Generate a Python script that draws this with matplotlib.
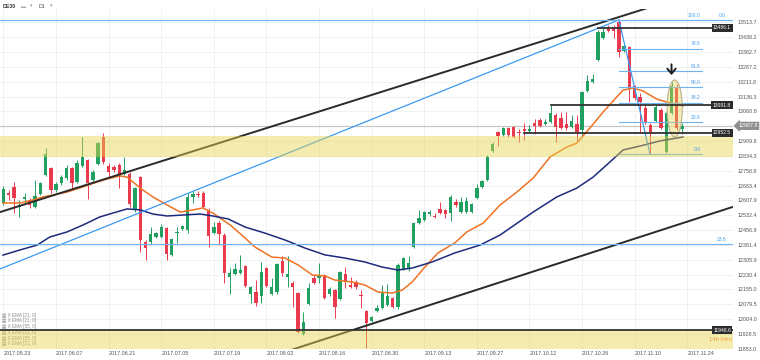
import numpy as np
import matplotlib.pyplot as plt
from matplotlib.patches import Ellipse
from matplotlib.transforms import blended_transform_factory

plt.rcParams['font.family'] = ['Liberation Sans', 'DejaVu Sans']

# DE30 daily candles, bar 0 = 2017.05.23
opens = [12595, 12646, 12677, 12575, 12616, 12610, 12575, 12641, 12738, 12773,
         12661, 12697, 12722, 12773, 12702, 12783, 12814, 12712, 12794, 12931,
         12783, 12778, 12789, 12743, 12743, 12560, 12727, 12397, 12397, 12422,
         12422, 12468, 12331, 12443, 12463, 12458, 12626, 12641, 12646, 12560,
         12443, 12493, 12432, 12218, 12234, 12239, 12275, 12132, 12142, 12122,
         12264, 12132, 12142, 12300, 12219, 12188, 12137, 11929, 12081, 12214,
         12214, 12229, 12132, 12152, 12107, 12234, 12178, 12193, 12127, 12046,
         11995, 12046, 12061, 12076, 12112, 12066, 12259, 12259, 12371, 12493,
         12509, 12539, 12529, 12565, 12560, 12544, 12600, 12549, 12549, 12549,
         12621, 12677, 12712, 12860, 12957, 12941, 12977, 12982, 12957, 12972,
         12962, 13002, 13018, 12997, 13007, 13043, 13028, 12997, 12982, 12997,
         12967, 13165, 13211, 13323, 13435, 13486, 13486, 13516, 13369, 13389,
         13191, 13135, 13079, 12992, 13012, 13068, 12855, 13053, 13186, 12972]
highs = [12682, 12661, 12702, 12610, 12646, 12621, 12712, 12702, 12875, 12778,
         12702, 12738, 12789, 12778, 12814, 12931, 12819, 12763, 12906, 12951,
         12799, 12789, 12799, 12829, 12753, 12677, 12733, 12407, 12473, 12448,
         12488, 12473, 12417, 12473, 12483, 12646, 12656, 12656, 12656, 12570,
         12498, 12504, 12443, 12264, 12290, 12331, 12280, 12173, 12203, 12295,
         12270, 12214, 12290, 12325, 12325, 12198, 12142, 12040, 12188, 12229,
         12290, 12234, 12168, 12158, 12249, 12270, 12219, 12203, 12152, 12051,
         12020, 12076, 12178, 12183, 12117, 12290, 12320, 12325, 12498, 12560,
         12554, 12560, 12544, 12600, 12565, 12636, 12616, 12626, 12626, 12595,
         12692, 12712, 12839, 12905, 12962, 12982, 12982, 12987, 12972, 13002,
         12992, 13022, 13028, 13022, 13094, 13053, 13058, 13058, 13043, 13043,
         13165, 13247, 13252, 13476, 13486, 13501, 13501, 13527, 13399, 13394,
         13196, 13155, 13099, 13002, 13094, 13079, 13058, 13211, 13201, 13002]
lows = [12585, 12610, 12544, 12524, 12600, 12570, 12570, 12636, 12733, 12646,
        12651, 12687, 12712, 12661, 12697, 12778, 12616, 12707, 12789, 12794,
        12727, 12753, 12672, 12738, 12575, 12549, 12346, 12305, 12387, 12417,
        12417, 12305, 12325, 12392, 12458, 12443, 12595, 12626, 12570, 12371,
        12437, 12381, 12188, 12132, 12229, 12234, 12168, 12086, 12071, 12086,
        12168, 12127, 12132, 12224, 12168, 12066, 11933, 11923, 12076, 12183,
        12188, 12107, 12122, 12010, 12102, 12163, 12163, 12158, 12061, 11857,
        11990, 12040, 12056, 12071, 12061, 12056, 12254, 12249, 12366, 12488,
        12504, 12529, 12519, 12539, 12519, 12504, 12575, 12544, 12544, 12544,
        12616, 12672, 12707, 12855, 12885, 12936, 12931, 12926, 12906, 12916,
        12957, 12946, 12982, 12992, 13002, 12906, 12972, 12967, 12977, 12911,
        12931, 13160, 13206, 13318, 13430, 13465, 13435, 13338, 13364, 13109,
        13119, 12957, 12997, 12845, 13007, 12972, 12850, 13048, 12967, 12946]
closes = [12666, 12636, 12621, 12585, 12626, 12585, 12631, 12697, 12845, 12661,
          12692, 12727, 12773, 12697, 12799, 12829, 12697, 12753, 12900, 12804,
          12753, 12763, 12738, 12763, 12590, 12672, 12407, 12366, 12437, 12442,
          12473, 12336, 12412, 12448, 12478, 12626, 12641, 12636, 12575, 12427,
          12473, 12437, 12239, 12239, 12259, 12254, 12173, 12168, 12086, 12244,
          12173, 12168, 12285, 12239, 12234, 12168, 11939, 11990, 12163, 12188,
          12229, 12112, 12158, 12066, 12244, 12193, 12170, 12168, 12122, 11984,
          12015, 12061, 12142, 12122, 12066, 12280, 12315, 12290, 12493, 12519,
          12549, 12549, 12524, 12544, 12539, 12626, 12585, 12600, 12605, 12590,
          12672, 12707, 12829, 12895, 12936, 12977, 12941, 12931, 12951, 12962,
          12972, 12987, 12987, 13007, 13053, 12982, 12977, 12977, 13012, 12957,
          13160, 13216, 13226, 13465, 13465, 13470, 13470, 13364, 13394, 13180,
          13130, 13109, 13007, 12957, 13084, 12977, 13053, 13191, 12977, 12988]

date_labels = ['2017.05.23', '2017.06.07', '2017.06.21', '2017.07.05', '2017.07.19',
               '2017.08.02', '2017.08.16', '2017.08.30', '2017.09.13', '2017.09.27',
               '2017.10.12', '2017.10.26', '2017.11.10', '2017.11.24']

price_tick_labels = ['11853.0', '11928.5', '12004.0', '12079.5', '12155.0', '12230.4',
                     '12305.9', '12381.4', '12456.9', '12532.4', '12607.9', '12683.4',
                     '12758.8', '12834.3', '12909.8', '', '13060.8', '13136.3',
                     '13211.8', '13287.2', '13362.7', '13438.2', '13513.7']

# moving averages (bar index, price)
ema21_x = [-0.1, 3.1, 5.6, 7.5, 9.4, 12.1, 15.1, 17.8, 19.7, 22.1, 23.5, 24.6, 26.5,
           28.4, 31.1, 33.6, 36.0, 37.9, 39.8, 41.7, 43.1, 45.3, 47.8, 51.0, 53.5,
           56.0, 58.7, 61.1, 63.0, 66.3, 68.7, 71.2, 73.9, 75.8, 77.7, 80.1, 82.6,
           85.8, 88.1, 91.2, 94.4, 97.6, 100.7, 103.9, 107.1, 109.0, 111.5, 114.0,
           116.6, 117.8, 119.7, 121.6, 124.2, 126.7, 129.2]
ema21_y = [12595, 12595, 12610, 12626, 12636, 12651, 12677, 12702, 12717, 12733, 12727,
           12702, 12661, 12626, 12585, 12549, 12560, 12570, 12544, 12509, 12483, 12432,
           12371, 12320, 12315, 12280, 12229, 12224, 12203, 12193, 12178, 12142, 12137,
           12152, 12193, 12269, 12341, 12392, 12448, 12493, 12585, 12651, 12722, 12829,
           12880, 12900, 12977, 13058, 13135, 13170, 13180, 13165, 13124, 13104, 13089]
ema55_x = [-0.1, 3.1, 6.4, 8.8, 12.1, 15.1, 18.3, 20.8, 23.5, 26.0, 28.4, 31.1, 34.1,
           37.4, 39.8, 42.7, 45.9, 49.7, 53.5, 57.3, 61.1, 64.9, 68.7, 72.0, 75.0,
           77.7, 81.5, 85.8, 90.6, 94.4, 100.7, 105.2, 109.0, 112.1, 115.3, 117.8,
           121.0, 124.8, 129.2]
ema55_y = [12330, 12356, 12381, 12422, 12448, 12483, 12524, 12544, 12565, 12560, 12539,
           12529, 12534, 12539, 12529, 12514, 12473, 12442, 12407, 12366, 12331, 12315,
           12295, 12269, 12254, 12264, 12295, 12341, 12381, 12432, 12549, 12626, 12671,
           12727, 12804, 12865, 12885, 12911, 12931]

# horizontal levels and the bar where each starts
level_prices = [13486.1, 13091.8, 12952.5, 11948.6]
level_start = [113, 104, 99, -1]
current_price = 12987.8

zone_upper = (12829, 12936)
zone_lower = (11850, 11948.6)

# fibonacci from the Oct top to the Nov low
fib_hi, fib_lo = 13527, 12845
fib_ratios = [0.0, 23.6, 38.2, 50.0, 61.8, 78.6, 100.0]
fib_long = {'0.0': 13527, '23.6': 12386.5}

trend_upper = ([-1, 125], [12546, 13609])
trend_lower = ([52, 138.5], [11824, 12574])
trend_blue = ([-0.7, 117], [12259, 13527])
fib_swing = ([117, 122.9], [13527, 12845])

GREEN, RED = '#22a061', '#ea3a4e'
FIBC = '#6db4f5'

fig = plt.figure(figsize=(7.6, 3.6), dpi=100)
ax = fig.add_axes([0, 11 / 360, 733 / 760, 340 / 360])
ax.set_xlim(-0.665, 138.69)
ax.set_ylim(11852.1, 13582.4)
for s in ax.spines.values():
    s.set_visible(False)

idx = np.arange(len(closes))
o, h, l, c = map(np.array, (opens, highs, lows, closes))
cols = np.where(c >= o, GREEN, RED)
ax.vlines(idx, l, h, colors=cols, lw=0.7, zorder=2)
body = np.maximum(np.abs(c - o), 6)
ax.bar(idx, body, bottom=np.minimum(o, c), width=0.64, color=cols, lw=0, zorder=2.1)

ax.plot(ema21_x, ema21_y, color='#f07224', lw=1.1, zorder=3)
ax.plot(ema55_x, ema55_y, color='#1e2a7c', lw=1.1, zorder=3)

ax.plot(*trend_upper, color='#2a2a2a', lw=1.4, zorder=3)
ax.plot(*trend_lower, color='#2a2a2a', lw=1.4, zorder=3)
ax.plot(*trend_blue, color='#3d9af2', lw=0.9, zorder=3)
ax.plot(*fib_swing, color='#3d9af2', lw=0.9, zorder=3)

ax.axhline(current_price, color='#c4c4c4', lw=0.8, zorder=1.5)

# fibonacci levels
for r in fib_ratios:
    p = fib_lo + r / 100 * (fib_hi - fib_lo)
    x1 = 138.7 if r == 100.0 else 132.8
    ax.plot([117, x1], [p, p], color=FIBC, lw=0.8, zorder=3)
    ax.text(132.5, p + 12, '%.1f' % r, fontsize=3.6, color='#4a9ff0',
            ha='right', va='bottom', zorder=6)
for lbl, p in fib_long.items():
    ax.plot([-1, 138.7], [p, p], color=FIBC, lw=0.8, zorder=3)
    ax.text(137.4, p + 12, lbl, fontsize=3.6, color='#4a9ff0',
            ha='right', va='bottom', zorder=6)

# supply / demand zones drawn over the candles
ax.axhspan(*zone_upper, color='#e8d44d', alpha=0.45, lw=0, zorder=4)
ax.axhspan(*zone_lower, color='#e8d44d', alpha=0.45, lw=0, zorder=4)
ax.add_patch(Ellipse((127.6, 13076), 2.9, 290, facecolor=(0.91, 0.83, 0.3, 0.4),
                     edgecolor='#b8b28c', lw=0.8, zorder=4))

for p, s0 in zip(level_prices, level_start):
    ax.plot([s0, 138.7], [p, p], color='#333333', lw=1.3, zorder=5)
    ax.text(136.6, p, '%.1f' % p, fontsize=3.6, color='white', ha='center',
            va='center', zorder=7,
            bbox=dict(boxstyle='square,pad=0.3', fc='#2c2c2c', ec='none'))

ax.annotate('', xy=(127.0, 13232), xytext=(127.0, 13315),
            arrowprops=dict(arrowstyle='->,head_length=0.35,head_width=0.3',
                            color='#1e1e1e', lw=1.4), zorder=8)
ax.text(136.3, 11898, '14h 04m', fontsize=4.2, color='#f0a53a', ha='center',
        va='center', zorder=7)

# legend rows (bottom-left)
legend_rows = ['EMA [21, 0]', 'EMA [21, 0]', 'EMA [55, 0]',
               'EMA [21, 0]', 'EMA [55, 0]', 'EMA [21, 0]']
for k, t in enumerate(legend_rows):
    ax.text(0.003, 0.1 - k * 0.017, '\u25a4 X ' + t, transform=ax.transAxes,
            fontsize=3.3, color='#8a8a8a', va='center', zorder=3.5)

# axes, ticks, grid
ax.set_xticks(range(0, 131, 10))
ax.set_xticklabels(date_labels, ha='left')
ax.set_yticks(np.linspace(11853.0, 13513.7, 23))
ax.set_yticklabels(price_tick_labels)
ax.yaxis.tick_right()
ax.tick_params(axis='both', length=0, labelsize=3.9, labelcolor='#555555')
ax.tick_params(axis='y', pad=3)
ax.tick_params(axis='x', pad=1.5)
ax.grid(True, color='#efefef', lw=0.6)
ax.set_axisbelow(True)

tr = blended_transform_factory(ax.transAxes, ax.transData)
ax.text(1.007, current_price, '12987.8', transform=tr, fontsize=3.9, color='white',
        ha='left', va='center', clip_on=False, zorder=10,
        bbox=dict(boxstyle='larrow,pad=0.3', fc='#8f8f8f', ec='none'))

# header
fig.text(3 / 760, 1 - 6 / 360, 'DE30', fontsize=3.8, fontweight='bold',
         color='#333333', va='center')
fig.text(21 / 760, 1 - 6 / 360, '\u25ac', fontsize=3.5, color='#aaaaaa', va='center')
fig.text(30 / 760, 1 - 6 / 360, '\u25be', fontsize=3.5, color='#999999', va='center')
fig.text(39 / 760, 1 - 6 / 360, 'D1', fontsize=3.8, color='#555555', va='center')
fig.text(50 / 760, 1 - 6 / 360, '\u25be', fontsize=3.5, color='#999999', va='center')

fig.savefig('out.png', dpi=100)
